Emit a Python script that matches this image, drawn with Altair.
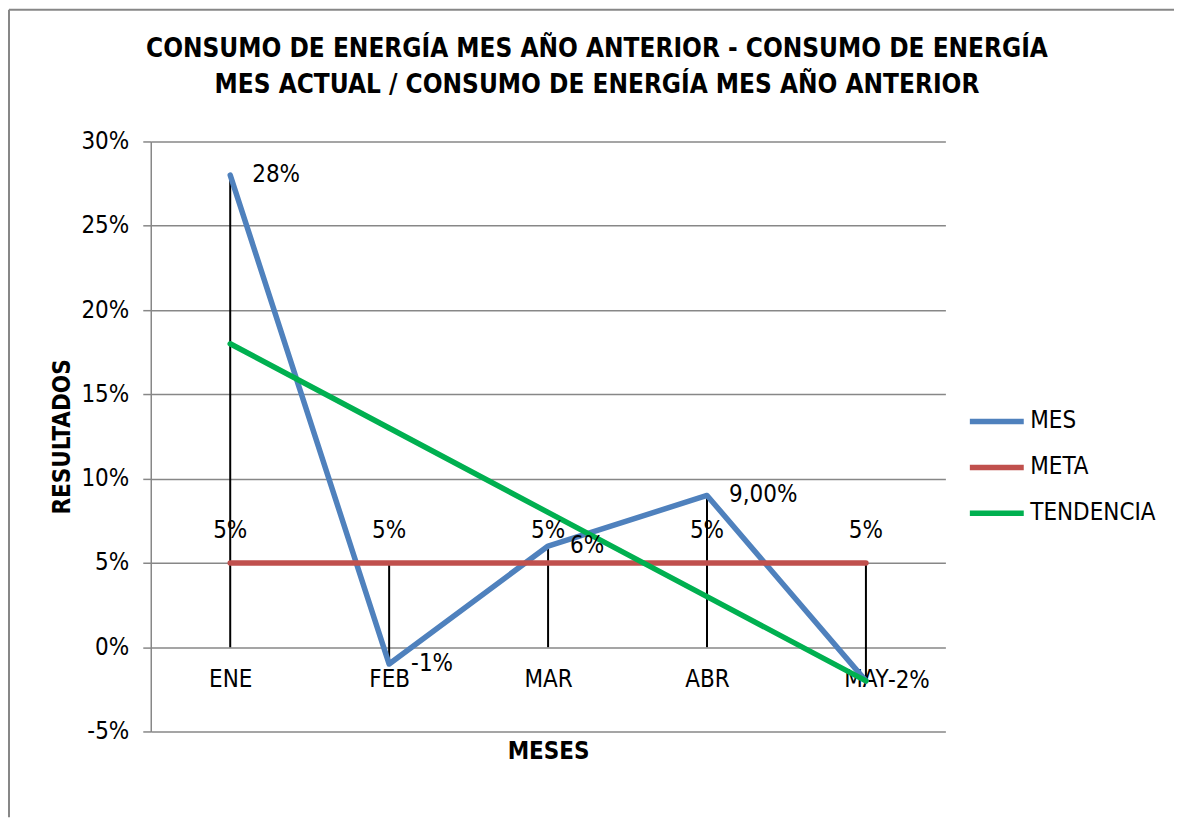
import altair as alt
import pandas as pd

months = ["ENE", "FEB", "MAR", "ABR", "MAY"]
mes = [0.28, -0.01, 0.06, 0.09, -0.02]
meta = [0.05, 0.05, 0.05, 0.05, 0.05]
tendencia = [0.18, 0.13, 0.08, 0.03, -0.02]
mes_labels = ["28%", "-1%", "6%", "9,00%", "-2%"]
meta_labels = ["5%", "5%", "5%", "5%", "5%"]
drop_top = [0.28, 0.05, 0.06, 0.09, 0.05]
drop_bottom = [0.0, -0.01, 0.0, 0.0, -0.02]
series_names = ["MES", "META", "TENDENCIA"]
series_colors = ["#4F81BD", "#C0504D", "#00B050"]

FONT = "Liberation Sans Narrow, Arial Narrow, DejaVu Sans Condensed, sans-serif"

rows = []
for name, vals in zip(series_names, [mes, meta, tendencia]):
    for m, v in zip(months, vals):
        rows.append({"mes": m, "serie": name, "valor": v})
long_df = pd.DataFrame(rows)

wide_df = pd.DataFrame({
    "mes": months, "MES": mes, "META": meta,
    "mes_label": mes_labels, "meta_label": meta_labels,
    "top": drop_top, "bottom": drop_bottom,
})

x_enc = alt.X("mes:N", sort=months, scale=alt.Scale(type="point", padding=0.5),
              axis=alt.Axis(title="MESES", orient="bottom", offset=-84.4,
                            domain=False, ticks=False, grid=False, labelAngle=0,
                            labelFontSize=24, labelFont=FONT, labelColor="#000",
                            labelPadding=20, titleFontSize=24, titleFont=FONT,
                            titleFontWeight="bold", titleColor="#000",
                            titlePadding=48))
y_scale = alt.Scale(domain=[-0.05, 0.30], nice=False, zero=False)
y_axis = alt.Axis(title="RESULTADOS", values=[-0.05, 0, 0.05, 0.10, 0.15, 0.20, 0.25, 0.30],
                  format=".0%", labelExpr="replace(datum.label, '\u2212', '-')",
                  labelFontSize=24, labelFont=FONT, labelColor="#000",
                  labelPadding=14, tickSize=8, tickColor="#878787", tickWidth=1.5,
                  domainColor="#878787", domainWidth=1.5, gridColor="#878787",
                  gridWidth=1.5, titleFontSize=24, titleFont=FONT, titleFontWeight="bold",
                  titleColor="#000", titlePadding=6)

drops = alt.Chart(wide_df).mark_rule(color="black", strokeWidth=2).encode(
    x=x_enc,
    y=alt.Y("top:Q", scale=y_scale, axis=y_axis),
    y2="bottom:Q",
)

lines = alt.Chart(long_df).mark_line(strokeWidth=5.5, strokeCap="round", strokeJoin="round").encode(
    x=alt.X("mes:N", sort=months),
    y=alt.Y("valor:Q"),
    color=alt.Color("serie:N", sort=series_names,
                    scale=alt.Scale(domain=series_names, range=series_colors),
                    legend=alt.Legend(title=None, orient="none", legendX=822, legendY=255,
                                      symbolType="M-1.2,0H1.2", symbolSize=2025,
                                      symbolStrokeWidth=5.5, labelFontSize=24, labelFont=FONT,
                                      labelColor="#000", labelOffset=8, rowPadding=8)),
)

mes_text = alt.Chart(wide_df).mark_text(align="left", baseline="middle", dx=22,
                                        fontSize=24, font=FONT, color="black").encode(
    x=alt.X("mes:N", sort=months), y=alt.Y("MES:Q"), text="mes_label:N")

meta_text = alt.Chart(wide_df).mark_text(align="center", baseline="middle", dy=-32,
                                         fontSize=24, font=FONT, color="black").encode(
    x=alt.X("mes:N", sort=months), y=alt.Y("META:Q"), text="meta_label:N")

border_left = alt.Chart(wide_df.head(1)).mark_rule(color="#878787", strokeWidth=2).encode(
    x=alt.value(-142), y=alt.value(-132), y2=alt.value(677))
border_top = alt.Chart(wide_df.head(1)).mark_rule(color="#878787", strokeWidth=2).encode(
    x=alt.value(-142), x2=alt.value(1025), y=alt.value(-132))

chart = alt.layer(border_left, border_top, drops, lines, mes_text, meta_text).properties(
    width=796, height=591,
    padding=0,
    title=alt.TitleParams(
        text=["CONSUMO DE ENERGÍA MES AÑO ANTERIOR - CONSUMO DE ENERGÍA",
              "MES ACTUAL / CONSUMO DE ENERGÍA MES AÑO ANTERIOR"],
        font=FONT, fontSize=26, fontWeight="bold", color="#000",
        anchor="middle", dx=49, offset=-89, lineHeight=36),
).configure_view(stroke=None).configure_axis(labelFont=FONT)

chart.save("out.html", embed_options={"renderer": "svg", "actions": False})
